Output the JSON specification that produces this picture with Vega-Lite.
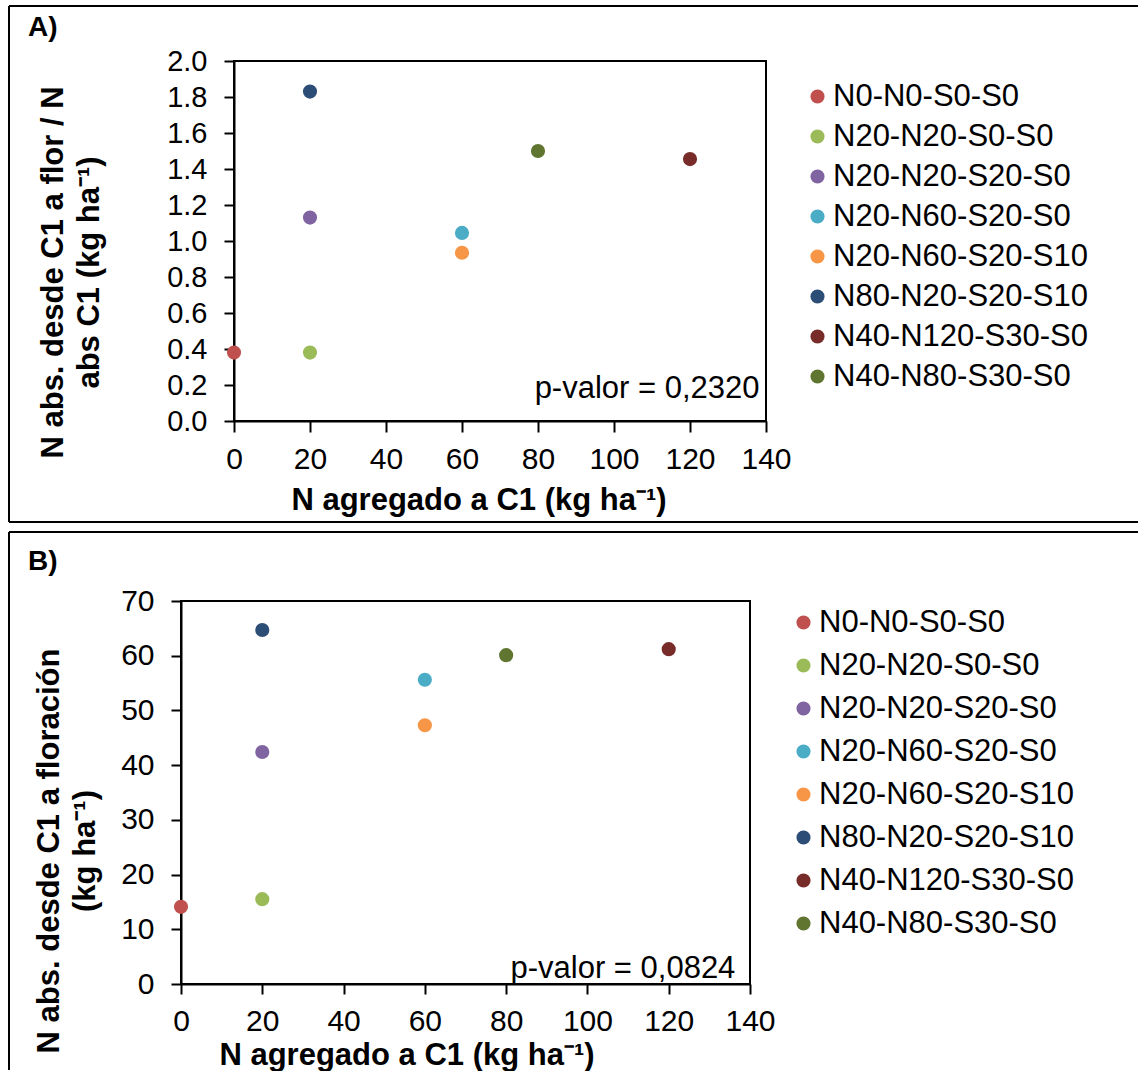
{
  "$schema": "https://vega.github.io/schema/vega-lite/v6.json",
  "padding": {"left": 7, "top": 4, "right": 0, "bottom": 0},
  "background": "white",
  "spacing": 8,
  "config": {
    "view": {"stroke": null},
    "font": "Liberation Sans",
    "axis": {
      "grid": false, "domainColor": "black", "domainWidth": 2, "tickColor": "black", "tickWidth": 2,
      "labelColor": "black", "labelFont": "Liberation Sans", "labelFontSize": 30,
      "titleFont": "Liberation Sans", "titleFontSize": 31, "titleFontWeight": "bold", "titleColor": "black",
      "labelFlush": false, "labelOverlap": false
    },
    "legend": {
      "orient": "none", "padding": 0, "labelFont": "Liberation Sans", "labelFontSize": 31, "labelColor": "black",
      "labelLimit": 400, "labelOffset": 0, "symbolType": "circle", "symbolSize": 200, "symbolStrokeWidth": 0, "symbolOpacity": 1
    }
  },
  "datasets": {
    "a": [
      {"tratamiento": "N0-N0-S0-S0", "n_agregado": 0, "valor": 0.38},
      {"tratamiento": "N20-N20-S0-S0", "n_agregado": 20, "valor": 0.38},
      {"tratamiento": "N20-N20-S20-S0", "n_agregado": 20, "valor": 1.13},
      {"tratamiento": "N20-N60-S20-S0", "n_agregado": 60, "valor": 1.045},
      {"tratamiento": "N20-N60-S20-S10", "n_agregado": 60, "valor": 0.935},
      {"tratamiento": "N80-N20-S20-S10", "n_agregado": 20, "valor": 1.83},
      {"tratamiento": "N40-N120-S30-S0", "n_agregado": 120, "valor": 1.455},
      {"tratamiento": "N40-N80-S30-S0", "n_agregado": 80, "valor": 1.5}
    ],
    "b": [
      {"tratamiento": "N0-N0-S0-S0", "n_agregado": 0, "valor": 14.1},
      {"tratamiento": "N20-N20-S0-S0", "n_agregado": 20, "valor": 15.5},
      {"tratamiento": "N20-N20-S20-S0", "n_agregado": 20, "valor": 42.4},
      {"tratamiento": "N20-N60-S20-S0", "n_agregado": 60, "valor": 55.6},
      {"tratamiento": "N20-N60-S20-S10", "n_agregado": 60, "valor": 47.3},
      {"tratamiento": "N80-N20-S20-S10", "n_agregado": 20, "valor": 64.7},
      {"tratamiento": "N40-N120-S30-S0", "n_agregado": 120, "valor": 61.2},
      {"tratamiento": "N40-N80-S30-S0", "n_agregado": 80, "valor": 60.1}
    ]
  },
  "vconcat": [
    {
      "width": 585,
      "height": 360,
      "layer": [
        {
          "data": {"values": [{}]},
          "mark": {"type": "rule", "color": "black", "strokeWidth": 2},
          "encoding": {
            "x": {"datum": -59.21, "type": "quantitative", "scale": {"domain": [0, 140], "range": [53, 585]},
              "axis": {"values": [0, 20, 40, 60, 80, 100, 120, 140], "title": "N agregado a C1 (kg ha⁻¹)", "tickSize": 11, "labelPadding": 12, "labelOverlap": false, "labelFlush": false, "titleX": 297.5, "titleY": 88, "titleBaseline": "alphabetic", "titleAlign": "center"}},
            "x2": {"datum": 237.9},
            "y": {"datum": 2.3056, "type": "quantitative", "scale": {"domain": [0, 2]},
              "axis": {"values": [0, 0.2, 0.4, 0.6, 0.8, 1, 1.2, 1.4, 1.6, 1.8, 2], "format": ".1f", "labelOverlap": false, "labelFlush": false, "title": ["N abs. desde C1 a flor / N", "abs C1  (kg ha⁻¹)"], "offset": -53, "tickSize": 10, "labelPadding": 17, "labelFontSize": 29, "titleX": -172, "titleY": 211, "titleAngle": 270, "titleBaseline": "alphabetic", "titleAlign": "center", "titleLineHeight": 36}}
          }
        },
        {
          "data": {"values": [{}]},
          "mark": {"type": "rule", "color": "black", "strokeWidth": 2},
          "encoding": {
            "x": {"datum": -59.21, "type": "quantitative", "scale": {"domain": [0, 140], "range": [53, 585]},
              "axis": {"values": [0, 20, 40, 60, 80, 100, 120, 140], "title": "N agregado a C1 (kg ha⁻¹)", "tickSize": 11, "labelPadding": 12, "labelOverlap": false, "labelFlush": false, "titleX": 297.5, "titleY": 88, "titleBaseline": "alphabetic", "titleAlign": "center"}},
            "x2": {"datum": 237.9},
            "y": {"datum": -0.5611, "type": "quantitative", "scale": {"domain": [0, 2]},
              "axis": {"values": [0, 0.2, 0.4, 0.6, 0.8, 1, 1.2, 1.4, 1.6, 1.8, 2], "format": ".1f", "labelOverlap": false, "labelFlush": false, "title": ["N abs. desde C1 a flor / N", "abs C1  (kg ha⁻¹)"], "offset": -53, "tickSize": 10, "labelPadding": 17, "labelFontSize": 29, "titleX": -172, "titleY": 211, "titleAngle": 270, "titleBaseline": "alphabetic", "titleAlign": "center", "titleLineHeight": 36}}
          }
        },
        {
          "data": {"values": [{}]},
          "mark": {"type": "rule", "color": "black", "strokeWidth": 2},
          "encoding": {
            "x": {"datum": -59.21, "type": "quantitative", "scale": {"domain": [0, 140], "range": [53, 585]},
              "axis": {"values": [0, 20, 40, 60, 80, 100, 120, 140], "title": "N agregado a C1 (kg ha⁻¹)", "tickSize": 11, "labelPadding": 12, "labelOverlap": false, "labelFlush": false, "titleX": 297.5, "titleY": 88, "titleBaseline": "alphabetic", "titleAlign": "center"}},
            "y": {"datum": 2.3056, "type": "quantitative", "scale": {"domain": [0, 2]},
              "axis": {"values": [0, 0.2, 0.4, 0.6, 0.8, 1, 1.2, 1.4, 1.6, 1.8, 2], "format": ".1f", "labelOverlap": false, "labelFlush": false, "title": ["N abs. desde C1 a flor / N", "abs C1  (kg ha⁻¹)"], "offset": -53, "tickSize": 10, "labelPadding": 17, "labelFontSize": 29, "titleX": -172, "titleY": 211, "titleAngle": 270, "titleBaseline": "alphabetic", "titleAlign": "center", "titleLineHeight": 36}},
            "y2": {"datum": -0.5611}
          }
        },
        {
          "data": {"values": [{}]},
          "mark": {"type": "rect", "fillOpacity": 0, "stroke": "black", "strokeWidth": 2},
          "encoding": {
            "x": {"datum": 0, "type": "quantitative", "scale": {"domain": [0, 140], "range": [53, 585]},
              "axis": {"values": [0, 20, 40, 60, 80, 100, 120, 140], "title": "N agregado a C1 (kg ha⁻¹)", "tickSize": 11, "labelPadding": 12, "labelOverlap": false, "labelFlush": false, "titleX": 297.5, "titleY": 88, "titleBaseline": "alphabetic", "titleAlign": "center"}},
            "x2": {"datum": 140},
            "y": {"datum": 0, "type": "quantitative", "scale": {"domain": [0, 2]},
              "axis": {"values": [0, 0.2, 0.4, 0.6, 0.8, 1, 1.2, 1.4, 1.6, 1.8, 2], "format": ".1f", "labelOverlap": false, "labelFlush": false, "title": ["N abs. desde C1 a flor / N", "abs C1  (kg ha⁻¹)"], "offset": -53, "tickSize": 10, "labelPadding": 17, "labelFontSize": 29, "titleX": -172, "titleY": 211, "titleAngle": 270, "titleBaseline": "alphabetic", "titleAlign": "center", "titleLineHeight": 36}},
            "y2": {"datum": 2}
          }
        },
        {
          "data": {"name": "a"},
          "mark": {"type": "circle", "size": 200, "opacity": 1},
          "encoding": {
            "x": {"field": "n_agregado", "type": "quantitative", "scale": {"domain": [0, 140], "range": [53, 585]},
              "axis": {"values": [0, 20, 40, 60, 80, 100, 120, 140], "title": "N agregado a C1 (kg ha⁻¹)", "tickSize": 11, "labelPadding": 12, "labelOverlap": false, "labelFlush": false, "titleX": 297.5, "titleY": 88, "titleBaseline": "alphabetic", "titleAlign": "center"}},
            "y": {"field": "valor", "type": "quantitative", "scale": {"domain": [0, 2]},
              "axis": {"values": [0, 0.2, 0.4, 0.6, 0.8, 1, 1.2, 1.4, 1.6, 1.8, 2], "format": ".1f", "labelOverlap": false, "labelFlush": false, "title": ["N abs. desde C1 a flor / N", "abs C1  (kg ha⁻¹)"], "offset": -53, "tickSize": 10, "labelPadding": 17, "labelFontSize": 29, "titleX": -172, "titleY": 211, "titleAngle": 270, "titleBaseline": "alphabetic", "titleAlign": "center", "titleLineHeight": 36}},
            "color": {
              "field": "tratamiento", "type": "nominal",
              "scale": {
                "domain": ["N0-N0-S0-S0", "N20-N20-S0-S0", "N20-N20-S20-S0", "N20-N60-S20-S0", "N20-N60-S20-S10", "N80-N20-S20-S10", "N40-N120-S30-S0", "N40-N80-S30-S0"],
                "range": ["#C0504D", "#9BBB59", "#8064A2", "#4BACC6", "#F79646", "#2C4D75", "#772C2A", "#5F7530"]
              },
              "legend": {"title": null, "legendX": 621, "legendY": 20, "rowPadding": 8}
            }
          }
        },
        {
          "data": {"values": [{}]},
          "mark": {"type": "text", "align": "right", "baseline": "alphabetic", "fontSize": 31, "font": "Liberation Sans", "color": "black"},
          "encoding": {
            "x": {"datum": 138.3, "type": "quantitative", "scale": {"domain": [0, 140], "range": [53, 585]},
              "axis": {"values": [0, 20, 40, 60, 80, 100, 120, 140], "title": "N agregado a C1 (kg ha⁻¹)", "tickSize": 11, "labelPadding": 12, "labelOverlap": false, "labelFlush": false, "titleX": 297.5, "titleY": 88, "titleBaseline": "alphabetic", "titleAlign": "center"}},
            "y": {"datum": 0.129, "type": "quantitative", "scale": {"domain": [0, 2]},
              "axis": {"values": [0, 0.2, 0.4, 0.6, 0.8, 1, 1.2, 1.4, 1.6, 1.8, 2], "format": ".1f", "labelOverlap": false, "labelFlush": false, "title": ["N abs. desde C1 a flor / N", "abs C1  (kg ha⁻¹)"], "offset": -53, "tickSize": 10, "labelPadding": 17, "labelFontSize": 29, "titleX": -172, "titleY": 211, "titleAngle": 270, "titleBaseline": "alphabetic", "titleAlign": "center", "titleLineHeight": 36}},
            "text": {"value": "p-valor = 0,2320"}
          }
        },
        {
          "data": {"values": [{}]},
          "mark": {"type": "text", "align": "left", "baseline": "alphabetic", "fontSize": 28, "fontWeight": "bold", "font": "Liberation Sans", "color": "black"},
          "encoding": {
            "x": {"datum": -54.2, "type": "quantitative", "scale": {"domain": [0, 140], "range": [53, 585]},
              "axis": {"values": [0, 20, 40, 60, 80, 100, 120, 140], "title": "N agregado a C1 (kg ha⁻¹)", "tickSize": 11, "labelPadding": 12, "labelOverlap": false, "labelFlush": false, "titleX": 297.5, "titleY": 88, "titleBaseline": "alphabetic", "titleAlign": "center"}},
            "y": {"datum": 2.1389, "type": "quantitative", "scale": {"domain": [0, 2]},
              "axis": {"values": [0, 0.2, 0.4, 0.6, 0.8, 1, 1.2, 1.4, 1.6, 1.8, 2], "format": ".1f", "labelOverlap": false, "labelFlush": false, "title": ["N abs. desde C1 a flor / N", "abs C1  (kg ha⁻¹)"], "offset": -53, "tickSize": 10, "labelPadding": 17, "labelFontSize": 29, "titleX": -172, "titleY": 211, "titleAngle": 270, "titleBaseline": "alphabetic", "titleAlign": "center", "titleLineHeight": 36}},
            "text": {"value": "A)"}
          }
        }
      ]
    },
    {
      "width": 569,
      "height": 383,
      "layer": [
        {
          "data": {"values": [{}]},
          "mark": {"type": "rule", "color": "black", "strokeWidth": 2},
          "encoding": {
            "x": {"datum": -42.32, "type": "quantitative", "scale": {"domain": [0, 140]},
              "axis": {"values": [0, 20, 40, 60, 80, 100, 120, 140], "title": "N agregado a C1 (kg ha⁻¹)", "tickSize": 10, "labelPadding": 12, "labelOverlap": false, "labelFlush": false, "titleX": 225.5, "titleY": 80, "titleBaseline": "alphabetic", "titleAlign": "center"}},
            "x2": {"datum": 235.47},
            "y": {"datum": 82.61, "type": "quantitative", "scale": {"domain": [0, 70]},
              "axis": {"values": [0, 10, 20, 30, 40, 50, 60, 70], "labelOverlap": false, "labelFlush": false, "title": ["N abs. desde C1 a floración", "(kg ha⁻¹)"], "tickSize": 10, "labelPadding": 17, "titleX": -122.5, "titleY": 249.5, "titleAngle": 270, "titleBaseline": "alphabetic", "titleAlign": "center", "titleLineHeight": 36}}
          }
        },
        {
          "data": {"values": [{}]},
          "mark": {"type": "rule", "color": "black", "strokeWidth": 2},
          "encoding": {
            "x": {"datum": -42.32, "type": "quantitative", "scale": {"domain": [0, 140]},
              "axis": {"values": [0, 20, 40, 60, 80, 100, 120, 140], "title": "N agregado a C1 (kg ha⁻¹)", "tickSize": 10, "labelPadding": 12, "labelOverlap": false, "labelFlush": false, "titleX": 225.5, "titleY": 80, "titleBaseline": "alphabetic", "titleAlign": "center"}},
            "y": {"datum": 82.61, "type": "quantitative", "scale": {"domain": [0, 70]},
              "axis": {"values": [0, 10, 20, 30, 40, 50, 60, 70], "labelOverlap": false, "labelFlush": false, "title": ["N abs. desde C1 a floración", "(kg ha⁻¹)"], "tickSize": 10, "labelPadding": 17, "titleX": -122.5, "titleY": 249.5, "titleAngle": 270, "titleBaseline": "alphabetic", "titleAlign": "center", "titleLineHeight": 36}},
            "y2": {"datum": -15.72}
          }
        },
        {
          "data": {"values": [{}]},
          "mark": {"type": "rect", "fillOpacity": 0, "stroke": "black", "strokeWidth": 2},
          "encoding": {
            "x": {"datum": 0, "type": "quantitative", "scale": {"domain": [0, 140]},
              "axis": {"values": [0, 20, 40, 60, 80, 100, 120, 140], "title": "N agregado a C1 (kg ha⁻¹)", "tickSize": 10, "labelPadding": 12, "labelOverlap": false, "labelFlush": false, "titleX": 225.5, "titleY": 80, "titleBaseline": "alphabetic", "titleAlign": "center"}},
            "x2": {"datum": 140},
            "y": {"datum": 0, "type": "quantitative", "scale": {"domain": [0, 70]},
              "axis": {"values": [0, 10, 20, 30, 40, 50, 60, 70], "labelOverlap": false, "labelFlush": false, "title": ["N abs. desde C1 a floración", "(kg ha⁻¹)"], "tickSize": 10, "labelPadding": 17, "titleX": -122.5, "titleY": 249.5, "titleAngle": 270, "titleBaseline": "alphabetic", "titleAlign": "center", "titleLineHeight": 36}},
            "y2": {"datum": 70}
          }
        },
        {
          "data": {"name": "b"},
          "mark": {"type": "circle", "size": 200, "opacity": 1},
          "encoding": {
            "x": {"field": "n_agregado", "type": "quantitative", "scale": {"domain": [0, 140]},
              "axis": {"values": [0, 20, 40, 60, 80, 100, 120, 140], "title": "N agregado a C1 (kg ha⁻¹)", "tickSize": 10, "labelPadding": 12, "labelOverlap": false, "labelFlush": false, "titleX": 225.5, "titleY": 80, "titleBaseline": "alphabetic", "titleAlign": "center"}},
            "y": {"field": "valor", "type": "quantitative", "scale": {"domain": [0, 70]},
              "axis": {"values": [0, 10, 20, 30, 40, 50, 60, 70], "labelOverlap": false, "labelFlush": false, "title": ["N abs. desde C1 a floración", "(kg ha⁻¹)"], "tickSize": 10, "labelPadding": 17, "titleX": -122.5, "titleY": 249.5, "titleAngle": 270, "titleBaseline": "alphabetic", "titleAlign": "center", "titleLineHeight": 36}},
            "color": {
              "field": "tratamiento", "type": "nominal",
              "scale": {
                "domain": ["N0-N0-S0-S0", "N20-N20-S0-S0", "N20-N20-S20-S0", "N20-N60-S20-S0", "N20-N60-S20-S10", "N80-N20-S20-S10", "N40-N120-S30-S0", "N40-N80-S30-S0"],
                "range": ["#C0504D", "#9BBB59", "#8064A2", "#4BACC6", "#F79646", "#2C4D75", "#772C2A", "#5F7530"]
              },
              "legend": {"title": null, "legendX": 607, "legendY": 6, "rowPadding": 11}
            }
          }
        },
        {
          "data": {"values": [{}]},
          "mark": {"type": "text", "align": "right", "baseline": "alphabetic", "fontSize": 31, "font": "Liberation Sans", "color": "black"},
          "encoding": {
            "x": {"datum": 136.4, "type": "quantitative", "scale": {"domain": [0, 140]},
              "axis": {"values": [0, 20, 40, 60, 80, 100, 120, 140], "title": "N agregado a C1 (kg ha⁻¹)", "tickSize": 10, "labelPadding": 12, "labelOverlap": false, "labelFlush": false, "titleX": 225.5, "titleY": 80, "titleBaseline": "alphabetic", "titleAlign": "center"}},
            "y": {"datum": 1.15, "type": "quantitative", "scale": {"domain": [0, 70]},
              "axis": {"values": [0, 10, 20, 30, 40, 50, 60, 70], "labelOverlap": false, "labelFlush": false, "title": ["N abs. desde C1 a floración", "(kg ha⁻¹)"], "tickSize": 10, "labelPadding": 17, "titleX": -122.5, "titleY": 249.5, "titleAngle": 270, "titleBaseline": "alphabetic", "titleAlign": "center", "titleLineHeight": 36}},
            "text": {"value": "p-valor = 0,0824"}
          }
        },
        {
          "data": {"values": [{}]},
          "mark": {"type": "text", "align": "left", "baseline": "alphabetic", "fontSize": 28, "fontWeight": "bold", "font": "Liberation Sans", "color": "black"},
          "encoding": {
            "x": {"datum": -37.65, "type": "quantitative", "scale": {"domain": [0, 140]},
              "axis": {"values": [0, 20, 40, 60, 80, 100, 120, 140], "title": "N agregado a C1 (kg ha⁻¹)", "tickSize": 10, "labelPadding": 12, "labelOverlap": false, "labelFlush": false, "titleX": 225.5, "titleY": 80, "titleBaseline": "alphabetic", "titleAlign": "center"}},
            "y": {"datum": 75.61, "type": "quantitative", "scale": {"domain": [0, 70]},
              "axis": {"values": [0, 10, 20, 30, 40, 50, 60, 70], "labelOverlap": false, "labelFlush": false, "title": ["N abs. desde C1 a floración", "(kg ha⁻¹)"], "tickSize": 10, "labelPadding": 17, "titleX": -122.5, "titleY": 249.5, "titleAngle": 270, "titleBaseline": "alphabetic", "titleAlign": "center", "titleLineHeight": 36}},
            "text": {"value": "B)"}
          }
        }
      ]
    }
  ],
  "resolve": {"scale": {"color": "independent"}, "legend": {"color": "independent"}}
}
